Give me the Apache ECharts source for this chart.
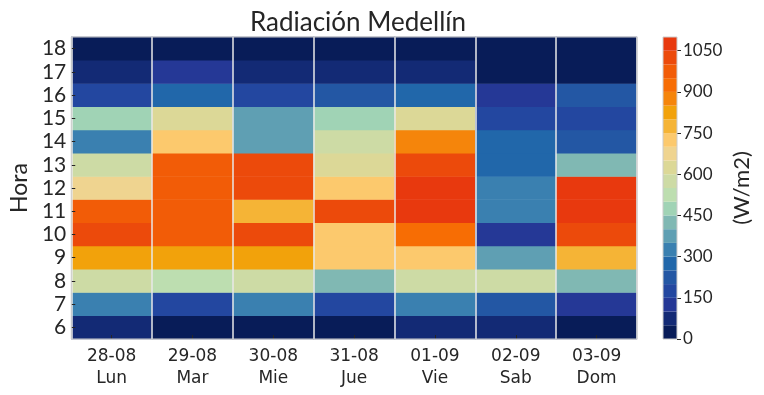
<!DOCTYPE html>
<html>
<head>
<meta charset="utf-8">
<script src="https://cdn.jsdelivr.net/npm/echarts@6/dist/echarts.min.js"></script>
<style>html,body{margin:0;padding:0;background:#fff;}#c{width:764px;height:395px;}</style>
</head>
<body>
<div id="c"></div>
<script>
var dates = ['28-08','29-08','30-08','31-08','01-09','02-09','03-09'];
var weekdays = ['Lun','Mar','Mie','Jue','Vie','Sab','Dom'];
var hours = ['6','7','8','9','10','11','12','13','14','15','16','17','18'];
// values per day, hours 6..18
var lun = [70, 320, 580, 820, 1020, 970, 670, 570, 320, 480, 180, 80, 20];
var mar = [30, 180, 530, 830, 960, 970, 960, 960, 720, 620, 270, 130, 15];
var mie = [25, 320, 570, 820, 1010, 770, 1020, 1010, 380, 370, 170, 80, 20];
var jue = [30, 180, 420, 720, 730, 1010, 720, 620, 560, 470, 220, 75, 25];
var vie = [70, 330, 570, 720, 920, 1070, 1060, 1010, 870, 620, 270, 85, 20];
var sab = [80, 230, 570, 370, 130, 330, 320, 280, 270, 180, 120, 20, 10];
var dom = [30, 130, 420, 780, 1020, 1070, 1060, 420, 230, 180, 220, 15, 10];
var days = [lun, mar, mie, jue, vie, sab, dom];
// colour bins of 50 W/m2 from 0 to 1100
var binColors = ['#081c58','#132a75','#253896','#2347a0','#2357a4','#2167aa','#3a80b0','#5f9fb3',
  '#80b8b3','#a0d3b5','#bddeb0','#cddba5','#dcd897','#efd490','#fcc96d','#f5b436',
  '#f2a20b','#f5850b','#f76d04','#f25c07','#ec4a0b','#e8390e'];
var binSize = 50;
var cbTicks = [0,150,300,450,600,750,900,1050];

var data = [];
days.forEach(function(vals, xi){ vals.forEach(function(v, yi){ data.push([xi, yi, v]); }); });
var pieces = binColors.map(function(c, i){ return {gte: i*binSize, lt: (i+1)*binSize, color: c}; });
var xLabels = dates.map(function(d, i){ return d + '\n' + weekdays[i]; });

var series = [{
  type: 'heatmap', xAxisIndex: 0, yAxisIndex: 0, data: data, z: 2,
  itemStyle: {borderWidth: 0}, emphasis: {disabled: true}
}];
binColors.forEach(function(c){
  series.push({type: 'bar', xAxisIndex: 1, yAxisIndex: 1, stack: 'cb', data: [binSize],
    barWidth: '100%', itemStyle: {color: c}, silent: true});
});

var txt = '#262626';
var chart = echarts.init(document.getElementById('c'));
chart.setOption({
  animation: false,
  title: {text: 'Radiación Medellín', left: 353, textAlign: 'center', top: 5,
    textStyle: {fontFamily: 'Lato', fontWeight: 'normal', fontSize: 26, color: txt}},
  grid: [
    {left: 70, top: 37, width: 567, height: 302, show: true, borderColor: '#cccccc', borderWidth: 1, backgroundColor: 'transparent', z: 10},
    {left: 663, top: 37, width: 14, height: 302, show: true, borderColor: '#cccccc', borderWidth: 1, backgroundColor: 'transparent', z: 10}
  ],
  xAxis: [
    {type: 'category', gridIndex: 0, data: xLabels, z: 5,
      axisLine: {show: false},
      axisTick: {show: true, inside: true, alignWithLabel: true, length: 4, lineStyle: {color: txt}},
      axisLabel: {fontFamily: '"DejaVu Sans"', fontSize: 17, color: txt, lineHeight: 22, margin: 7, interval: 0},
      splitLine: {show: true, interval: 0, lineStyle: {color: '#e8e8e8', width: 1.5}}},
    {type: 'category', gridIndex: 1, data: ['cb'], show: false}
  ],
  yAxis: [
    {type: 'category', gridIndex: 0, data: hours, z: 5,
      name: 'Hora', nameLocation: 'middle', nameGap: 38, nameRotate: 90,
      nameTextStyle: {fontFamily: 'Lato', fontSize: 23, color: txt},
      axisLine: {show: false},
      axisTick: {show: true, inside: true, alignWithLabel: true, interval: 0, length: 4, lineStyle: {color: txt}},
      axisLabel: {fontFamily: 'Lato', fontSize: 21, color: txt, margin: 5, interval: 0},
      splitLine: {show: false}},
    {type: 'value', gridIndex: 1, position: 'right', min: 0, max: 1100,
      name: '(W/m2)', nameLocation: 'middle', nameGap: 54, nameRotate: 90,
      nameTextStyle: {fontFamily: 'Lato', fontSize: 22, color: txt},
      axisLine: {show: false},
      axisTick: {show: true, length: 4, customValues: cbTicks, lineStyle: {color: txt}},
      axisLabel: {fontFamily: 'Lato', fontSize: 17, color: txt, margin: 6, customValues: cbTicks,
        formatter: function(v){ return String(v); }},
      splitLine: {show: false}}
  ],
  visualMap: {type: 'piecewise', show: false, seriesIndex: 0, dimension: 2, pieces: pieces},
  series: series
});
</script>
</body>
</html>
